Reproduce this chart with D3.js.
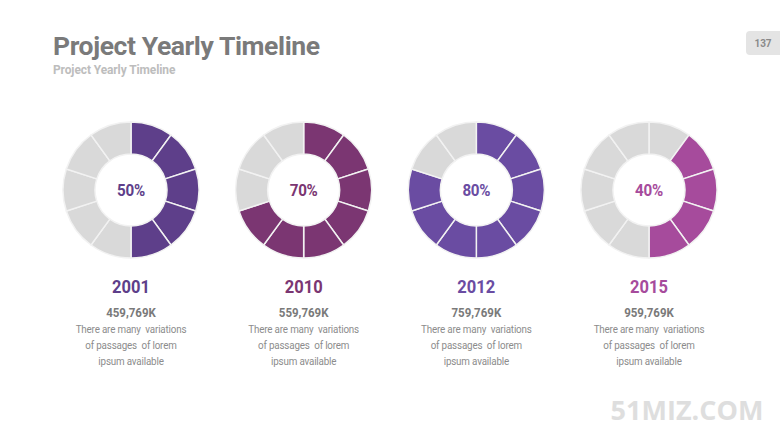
<!DOCTYPE html>
<html><head><meta charset="utf-8">
<script src="https://cdn.jsdelivr.net/npm/d3@7"></script>
<style>body{margin:0;background:#fff}svg{display:block}</style>
</head><body>
<svg id="c" width="780" height="439"></svg>
<script>
const years = ["2001","2010","2012","2015"];
const percents = [50,70,80,40];
const startSegments = [0,0,0,1];
const amounts = ["459,769K","559,769K","759,769K","959,769K"];
const colors = ["#5e3f8a","#7b3672","#6a4ca2","#a64b9c"];
const descLines = ["There are many  variations","of passages  of lorem","ipsum available"];
const segments = 10;

const svg = d3.select("#c");
svg.append("text").attr("x",53).attr("y",55).attr("font-family","Roboto").attr("font-weight","bold")
  .attr("font-size",26.5).attr("fill","#7a7a7a").attr("letter-spacing","-0.4").text("Project Yearly Timeline");
svg.append("text").attr("transform","translate(53,74) scale(0.92,1)").attr("font-family","Roboto").attr("font-weight","bold")
  .attr("font-size",13).attr("fill","#bdbdbd").attr("letter-spacing","-0.1").text("Project Yearly Timeline");
svg.append("rect").attr("x",746).attr("y",31).attr("width",40).attr("height",24).attr("rx",4).attr("fill","#e4e4e4");
svg.append("text").attr("x",763).attr("y",47).attr("text-anchor","middle").attr("font-family","Roboto").attr("font-weight","bold")
  .attr("font-size",10).attr("fill","#8a8a8a").text("137");
svg.append("text").attr("x",687).attr("y",420).attr("text-anchor","middle").attr("font-family","Open Sans, sans-serif").attr("font-weight","bold")
  .attr("font-size",27).attr("fill","#dedede").text("51MIZ.COM");

const x = d3.scalePoint().domain(years).range([131,649]);
const segScale = d3.scaleLinear().domain([0,segments]).range([0,2*Math.PI]);
const arc = d3.arc().innerRadius(36).outerRadius(68);
const cy = 190;

years.forEach((yr,i)=>{
  const g = svg.append("g").attr("transform",`translate(${x(yr)},${cy})`);
  const nFill = percents[i]/100*segments;
  const segs = d3.range(segments).map(k=>({k, filled: k>=startSegments[i] && k<startSegments[i]+nFill}));
  g.selectAll("path").data(segs).join("path")
    .attr("d",d=>arc({startAngle:segScale(d.k),endAngle:segScale(d.k+1)}))
    .attr("fill",d=>d.filled?colors[i]:"#d9d9d9")
    .attr("stroke","#f2f2f2").attr("stroke-width",1.5);
  g.append("text").attr("transform","translate(0,6) scale(0.92,1)").attr("text-anchor","middle").attr("font-family","Roboto").attr("font-weight","bold")
    .attr("font-size",16.5).attr("fill",colors[i]).attr("letter-spacing","-0.3").text(percents[i]+"%");
  const t = svg.append("g").attr("transform",`translate(${x(yr)},0)`);
  t.append("text").attr("transform","translate(0,293) scale(0.92,1)").attr("text-anchor","middle").attr("font-family","Roboto").attr("font-weight","bold")
    .attr("font-size",18).attr("fill",colors[i]).text(yr);
  t.append("text").attr("transform","translate(0,317) scale(0.92,1)").attr("text-anchor","middle").attr("font-family","Roboto").attr("font-weight","bold")
    .attr("font-size",12.5).attr("fill","#7a7a7a").text(amounts[i]);
  descLines.forEach((l,j)=>{
    t.append("text").attr("transform",`translate(0,${333+j*16}) scale(0.87,1)`).attr("text-anchor","middle").attr("font-family","Roboto")
      .attr("font-size",11.3).attr("fill","#8c8c8c").attr("letter-spacing","-0.2").style("white-space","pre").text(l);
  });
});
</script>
</body></html>
